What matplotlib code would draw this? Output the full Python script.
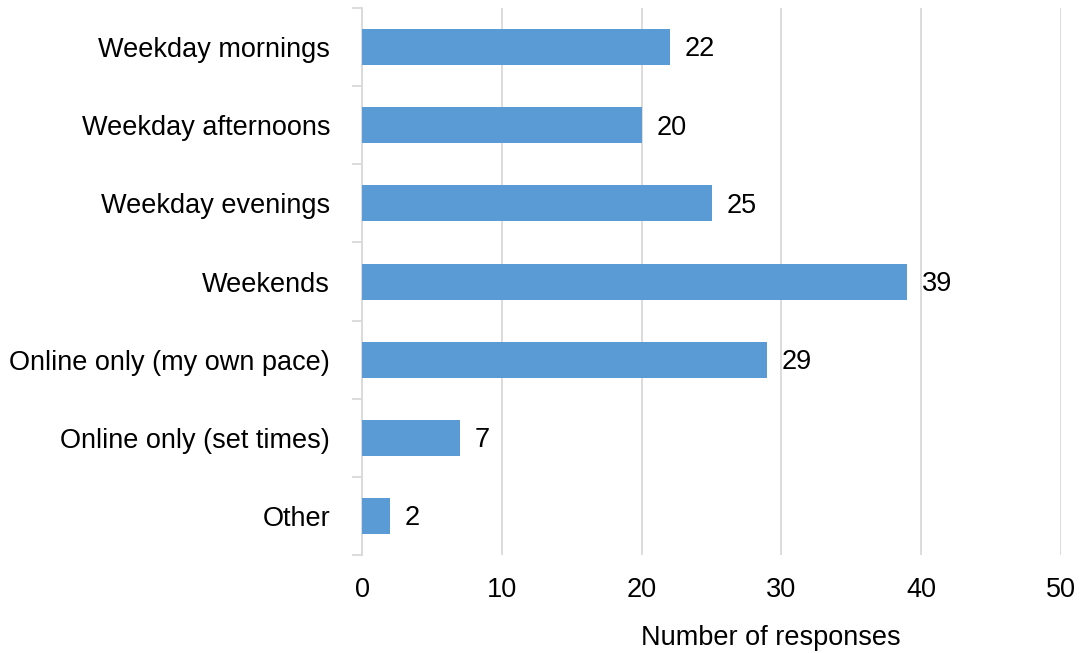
import matplotlib
matplotlib.use("Agg")
import matplotlib.pyplot as plt
import numpy as np

plt.rcParams["font.family"] = ["Liberation Sans", "DejaVu Sans"]

categories = [
    "Weekday mornings",
    "Weekday afternoons",
    "Weekday evenings",
    "Weekends",
    "Online only (my own pace)",
    "Online only (set times)",
    "Other",
]
responses = [22, 20, 25, 39, 29, 7, 2]
x_ticks = [0, 10, 20, 30, 40, 50]

BAR_COLOR = "#5B9BD5"
GRID_COLOR = "#D9D9D9"
FS = 19.5

fig = plt.figure(figsize=(10.81, 6.53), dpi=100)
ax = fig.add_axes([0.3349, 0.150, 0.6466, 0.8377])

y = np.arange(len(categories))
ax.barh(y, responses, height=0.46, color=BAR_COLOR, zorder=3)

for yi, v in zip(y, responses):
    ax.text(v + 1.05, yi + 0.03, str(v), va="center", ha="left", fontsize=FS, color="black")

ax.set_xlim(0, 50)
ax.set_ylim(len(categories) - 0.5, -0.5)
ax.set_xticks(x_ticks)
ax.set_yticks(y)
ax.set_yticklabels(categories)
ax.set_yticks(np.arange(len(categories) + 1) - 0.5, minor=True)

ax.xaxis.grid(True, color=GRID_COLOR, linewidth=1.3, zorder=0)
ax.set_axisbelow(True)

for s in ["top", "right", "bottom"]:
    ax.spines[s].set_visible(False)
ax.spines["left"].set_color(GRID_COLOR)
ax.spines["left"].set_linewidth(1.3)

ax.tick_params(axis="y", which="major", length=0, pad=23, labelsize=FS)
ax.tick_params(axis="y", which="minor", length=7, color=GRID_COLOR, width=1.3)
ax.tick_params(axis="x", length=0, pad=16, labelsize=FS)

ax.set_xlabel("Number of responses", fontsize=FS)
ax.xaxis.set_label_coords(0.585, -0.128)

fig.savefig("out.png", dpi=100)
